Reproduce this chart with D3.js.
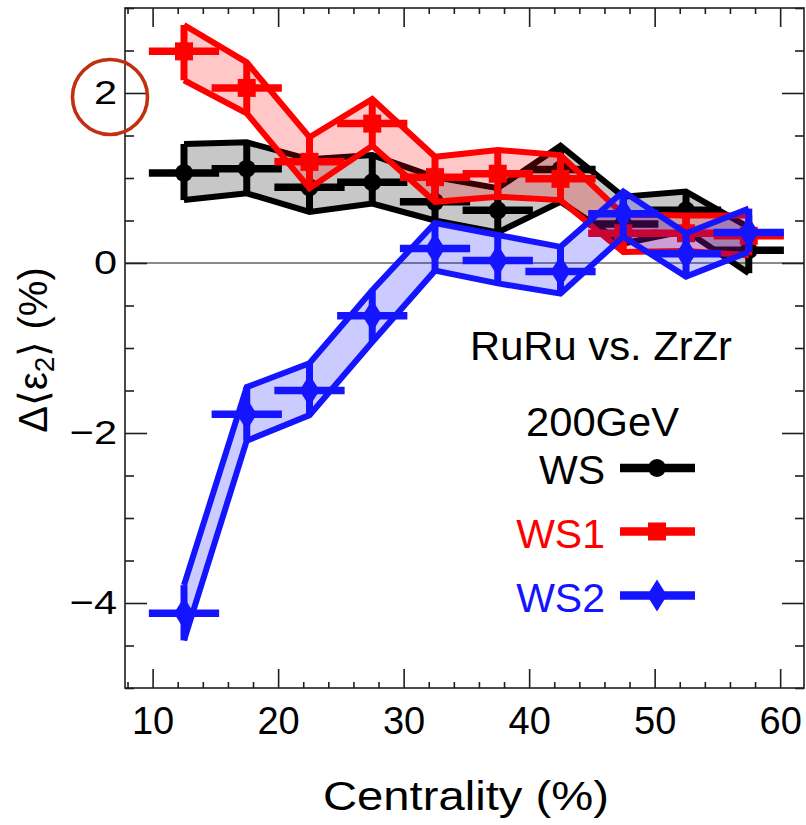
<!DOCTYPE html>
<html>
<head>
<meta charset="utf-8">
<script src="https://cdn.jsdelivr.net/npm/d3@7"></script>
<style>
  html, body { margin: 0; padding: 0; background: #fff; }
  svg { display: block; font-family: "Liberation Sans", Arial, sans-serif; }
</style>
</head>
<body>
<svg id="chart" width="806" height="825"></svg>
<script>
// Centrality bins (bin centres, %) and half-width of each bin
const centrality = [12.5, 17.5, 22.5, 27.5, 32.5, 37.5, 42.5, 47.5, 52.5, 57.5];
const binHalfWidth = 2.5;

// WS: relative difference of <eps2>, RuRu vs ZrZr (%)
const wsValue = [1.06, 1.11, 0.89, 0.95, 0.72, 0.62, 1.10, 0.46, 0.62, 0.15];
const wsUpper = [1.40, 1.42, 1.22, 1.27, 1.01, 0.88, 1.38, 0.78, 0.84, 0.42];
const wsLower = [0.74, 0.82, 0.60, 0.70, 0.50, 0.36, 0.72, 0.23, 0.38, -0.12];

// WS1
const ws1Value = [2.49, 2.06, 1.19, 1.64, 1.01, 1.05, 0.99, 0.35, 0.35, 0.32];
const ws1Upper = [2.80, 2.36, 1.48, 1.93, 1.25, 1.33, 1.27, 0.57, 0.56, 0.56];
const ws1Lower = [2.15, 1.76, 0.88, 1.38, 0.72, 0.78, 0.74, 0.13, 0.14, 0.09];

// WS2
const ws2Value = [-4.12, -1.78, -1.50, -0.62, 0.17, 0.03, -0.10, 0.58, 0.11, 0.36];
const ws2Upper = [-3.79, -1.46, -1.18, -0.32, 0.47, 0.33, 0.19, 0.84, 0.35, 0.64];
const ws2Lower = [-4.44, -2.09, -1.79, -0.93, -0.09, -0.24, -0.36, 0.31, -0.16, 0.13];

// Axis ticks
const xMajorTicks = [10, 20, 30, 40, 50, 60];
const xMinorTicks = d3.range(8, 62, 2);
const yMajorTicks = [-4, -2, 0, 2];
const yMinorTicks = d3.range(-5, 3.01, 0.5);

const seriesNames = ["WS", "WS1", "WS2"];
const seriesColors = ["#000000", "#ff0000", "#1414ff"];
const seriesShapes = ["circle", "square", "diamond"];

const series = [
  { name: seriesNames[0], color: seriesColors[0], shape: seriesShapes[0], v: wsValue, hi: wsUpper, lo: wsLower },
  { name: seriesNames[1], color: seriesColors[1], shape: seriesShapes[1], v: ws1Value, hi: ws1Upper, lo: ws1Lower },
  { name: seriesNames[2], color: seriesColors[2], shape: seriesShapes[2], v: ws2Value, hi: ws2Upper, lo: ws2Lower }
];

const svg = d3.select("#chart");
const plot = { left: 125, right: 804, top: 8, bottom: 688 };

const x = d3.scaleLinear().domain([7.8, 61.9]).range([plot.left, plot.right]);
const y = d3.scaleLinear().domain([-5, 3]).range([plot.bottom, plot.top]);

const clipId = "plotClip";
svg.append("defs").append("clipPath").attr("id", clipId)
  .append("rect")
  .attr("x", plot.left).attr("y", plot.top)
  .attr("width", plot.right - plot.left).attr("height", plot.bottom - plot.top);

// zero reference line
svg.append("line")
  .attr("x1", plot.left).attr("x2", plot.right)
  .attr("y1", y(0)).attr("y2", y(0))
  .attr("stroke", "#8a8a8a").attr("stroke-width", 2);

const marks = svg.append("g").attr("clip-path", `url(#${clipId})`);

function markerPath(shape) {
  if (shape === "circle") return d3.symbol(d3.symbolCircle, Math.PI * 9 * 9)();
  if (shape === "square") return "M-9,-9H9V9H-9Z";
  return "M0,-16L10,0L0,16L-10,0Z";
}

series.forEach(s => {
  const rows = centrality.map((c, i) => ({ c, v: s.v[i], hi: s.hi[i], lo: s.lo[i] }));
  const g = marks.append("g");

  const band = d3.area()
    .x(d => x(d.c))
    .y0(d => y(d.lo))
    .y1(d => y(d.hi));

  g.append("path")
    .attr("d", band(rows))
    .attr("fill", s.color).attr("fill-opacity", 0.22)
    .attr("stroke", "none");

  const upperLine = d3.line().x(d => x(d.c)).y(d => y(d.hi));
  const lowerLine = d3.line().x(d => x(d.c)).y(d => y(d.lo));
  [upperLine, lowerLine].forEach(fn => {
    g.append("path")
      .attr("d", fn(rows))
      .attr("fill", "none")
      .attr("stroke", s.color).attr("stroke-width", 6)
      .attr("stroke-linejoin", "miter").attr("stroke-miterlimit", 6);
  });

  // vertical error bars
  g.selectAll(null).data(rows).enter().append("line")
    .attr("x1", d => x(d.c)).attr("x2", d => x(d.c))
    .attr("y1", d => y(d.lo)).attr("y2", d => y(d.hi))
    .attr("stroke", s.color).attr("stroke-width", 7);

  // horizontal bin-width bars
  g.selectAll(null).data(rows).enter().append("line")
    .attr("x1", d => x(d.c - binHalfWidth)).attr("x2", d => x(d.c + binHalfWidth))
    .attr("y1", d => y(d.v)).attr("y2", d => y(d.v))
    .attr("stroke", s.color).attr("stroke-width", 7.5)
    .attr("stroke-linecap", "square");

  g.selectAll(null).data(rows).enter().append("path")
    .attr("d", markerPath(s.shape))
    .attr("transform", d => `translate(${x(d.c)},${y(d.v)})`)
    .attr("fill", s.color);
});

// frame
svg.append("rect")
  .attr("x", plot.left).attr("y", plot.top)
  .attr("width", plot.right - plot.left).attr("height", plot.bottom - plot.top)
  .attr("fill", "none").attr("stroke", "#1e1e1e").attr("stroke-width", 1.6);

const tickColor = "#1e1e1e";
const fmtMinus = d => (d < 0 ? "\u2212" + Math.abs(d) : String(d));

function styleAxis(g) {
  g.select(".domain").remove();
  g.selectAll(".tick line").attr("stroke", tickColor).attr("stroke-width", 1.6);
}

// bottom axis with labels, ticks pointing inward
svg.append("g").attr("transform", `translate(0,${plot.bottom})`)
  .call(d3.axisBottom(x).tickValues(xMajorTicks).tickSize(-19).tickPadding(19).tickFormat(d3.format("d")))
  .call(styleAxis)
  .call(g => g.selectAll("text").attr("font-size", 38).attr("fill", "#000")
    .attr("font-family", "'Liberation Sans', Arial, sans-serif"));
svg.append("g").attr("transform", `translate(0,${plot.bottom})`)
  .call(d3.axisBottom(x).tickValues(xMinorTicks.filter(t => t % 10 !== 0)).tickSize(-6).tickFormat(""))
  .call(styleAxis);

// top axis, ticks only
svg.append("g").attr("transform", `translate(0,${plot.top})`)
  .call(d3.axisTop(x).tickValues(xMajorTicks).tickSize(-19).tickFormat(""))
  .call(styleAxis);
svg.append("g").attr("transform", `translate(0,${plot.top})`)
  .call(d3.axisTop(x).tickValues(xMinorTicks.filter(t => t % 10 !== 0)).tickSize(-6).tickFormat(""))
  .call(styleAxis);

// left axis with labels (glyphs drawn slightly wide)
svg.append("g").attr("transform", `translate(${plot.left},0)`)
  .call(d3.axisLeft(y).tickValues(yMajorTicks).tickSize(-22).tickPadding(8).tickFormat(fmtMinus))
  .call(styleAxis)
  .call(g => g.selectAll("text").attr("font-size", 34).attr("fill", "#000")
    .attr("font-family", "'Liberation Sans', Arial, sans-serif")
    .each(function () {
      const len = this.getComputedTextLength();
      d3.select(this).attr("textLength", len * 1.22).attr("lengthAdjust", "spacingAndGlyphs");
    }));
svg.append("g").attr("transform", `translate(${plot.left},0)`)
  .call(d3.axisLeft(y).tickValues(yMinorTicks.filter(t => !yMajorTicks.includes(t))).tickSize(-9).tickFormat(""))
  .call(styleAxis);

// right axis, ticks only
svg.append("g").attr("transform", `translate(${plot.right},0)`)
  .call(d3.axisRight(y).tickValues(yMajorTicks).tickSize(-22).tickFormat(""))
  .call(styleAxis);
svg.append("g").attr("transform", `translate(${plot.right},0)`)
  .call(d3.axisRight(y).tickValues(yMinorTicks.filter(t => !yMajorTicks.includes(t))).tickSize(-9).tickFormat(""))
  .call(styleAxis);

// axis titles
svg.append("text")
  .attr("x", 466).attr("y", 810)
  .attr("text-anchor", "middle")
  .attr("font-size", 41)
  .attr("textLength", 286).attr("lengthAdjust", "spacingAndGlyphs")
  .text("Centrality (%)");

const yTitle = svg.append("text")
  .attr("transform", "translate(47,350) rotate(-90)")
  .attr("text-anchor", "middle")
  .attr("font-size", 40);
yTitle.append("tspan").text("\u0394\u27e8\u03b5");
yTitle.append("tspan").attr("font-size", 28).attr("dy", 7).text("2");
yTitle.append("tspan").attr("dy", -7).text("\u27e9 (%)");

// legend
svg.append("text").attr("x", 470).attr("y", 360).attr("font-size", 41)
  .attr("textLength", 262).attr("lengthAdjust", "spacingAndGlyphs")
  .text("RuRu vs. ZrZr");
svg.append("text").attr("x", 526).attr("y", 436).attr("font-size", 41)
  .attr("textLength", 153).attr("lengthAdjust", "spacingAndGlyphs")
  .text("200GeV");

const legendRows = [468, 531.5, 595.5];
series.forEach((s, i) => {
  const cy = legendRows[i];
  svg.append("text")
    .attr("x", 605).attr("y", cy + 16)
    .attr("text-anchor", "end")
    .attr("font-size", 41)
    .attr("fill", s.color)
    .text(s.name);
  svg.append("line")
    .attr("x1", 620).attr("x2", 695).attr("y1", cy).attr("y2", cy)
    .attr("stroke", s.color).attr("stroke-width", 8.5);
  svg.append("path")
    .attr("d", markerPath(s.shape))
    .attr("transform", `translate(657,${cy})`)
    .attr("fill", s.color);
});

// highlight ring around the "2" tick label
svg.append("circle")
  .attr("cx", 110).attr("cy", 97).attr("r", 37.5)
  .attr("fill", "none")
  .attr("stroke", "#c1300f").attr("stroke-width", 3.6);
</script>
</body>
</html>
